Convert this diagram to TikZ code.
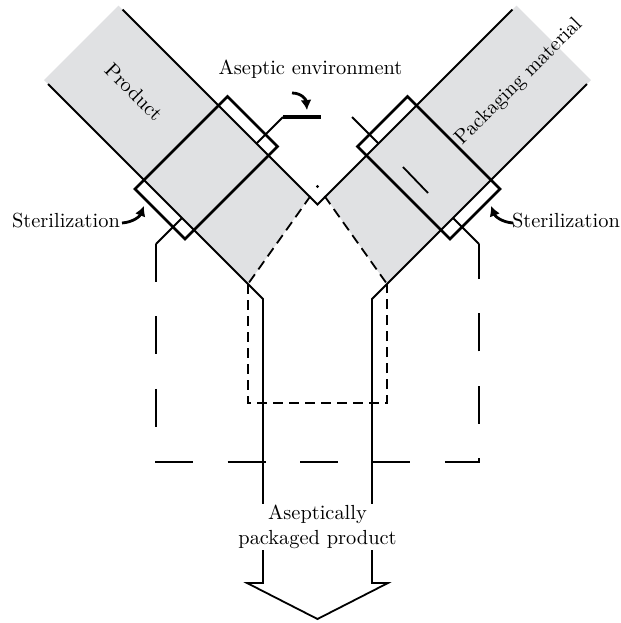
\documentclass[tikz,border=0pt]{standalone}
\usetikzlibrary{arrows.meta}
\definecolor{bandgray}{RGB}{224,225,227}
\begin{document}
\begin{tikzpicture}[x=0.5pt,y=-0.5pt,
  thinline/.style={line width=0.9pt, line join=miter},
  boldline/.style={line width=1.6pt},
  framebox/.style={line width=1.4pt, line join=miter},
  housedash/.style={line width=0.9pt, dash pattern=on 5pt off 3pt},
  longdash/.style={line width=0.9pt, dash pattern=on 19pt off 17.2pt},
  curvearrow/.style={line width=1.4pt, -{Latex[length=5pt,width=5.5pt]}},
  lbl/.style={font=\fontsize{10.2}{12.5}\selectfont, inner sep=1pt}]
\useasboundingbox (0,0) rectangle (621,623);

% key points
\coordinate (LT0) at (122.5,9.5);
\coordinate (V) at (317.5,204.5);
\coordinate (RT0) at (512.5,9.5);
\coordinate (LB0) at (48,84);
\coordinate (LB1) at (263,299);
\coordinate (LB2) at (263,583);
\coordinate (LB3) at (247,583);
\coordinate (TIP) at (317.5,619);
\coordinate (RB3) at (388,583);
\coordinate (RB2) at (372,583);
\coordinate (RB1) at (372,299);
\coordinate (RB0) at (587,84);

% gray bands
\fill[bandgray] (118.5,5.5) -- (44,80) -- (248,284) -- (309.8,196.8) -- cycle;
\fill[bandgray] (516.5,5.5) -- (591,80) -- (387,284) -- (325.2,196.8) -- cycle;

% dashed inner house
\coordinate (HL) at (248,284);
\coordinate (HR) at (387,284);
\coordinate (HXL) at (310.5,196);
\coordinate (HXR) at (324.5,196);
\coordinate (HA) at (317.5,186.5);
\coordinate (HBL) at (248,403);
\coordinate (HBR) at (387,403);
\draw[housedash] (HL) -- (HBL) -- (HBR) -- (HR);
\draw[housedash] (HXL) -- (HL);
\draw[housedash] (HXR) -- (HR);
\fill (HA) circle (1.6);

% outer long-dashed boundary
\coordinate (OL) at (156,244);
\coordinate (OR) at (479,244);
\coordinate (OBL) at (156,462);
\coordinate (OBR) at (479,462);
\draw[longdash] (OL) -- (OBL) -- (OBR) -- (OR);

% band edges and tube
\draw[thinline] (LT0) -- (V) -- (RT0);
\draw[thinline] (LB0) -- (LB1) -- (LB2) -- (LB3) -- (TIP) -- (RB3) -- (RB2) -- (RB1) -- (RB0);

% sterilization frames
\coordinate (F1a) at (227.5,96.5);
\coordinate (F1b) at (277.5,146.5);
\coordinate (F1c) at (185,239);
\coordinate (F1d) at (135,189);
\draw[framebox] (F1a) -- (F1b) -- (F1c) -- (F1d) -- cycle;
\coordinate (F2a) at (407.5,96.5);
\coordinate (F2b) at (357.5,146.5);
\coordinate (F2c) at (450,239);
\coordinate (F2d) at (500,189);
\draw[framebox] (F2a) -- (F2b) -- (F2c) -- (F2d) -- cycle;

% connectors
\coordinate (A1) at (256.5,143.5);
\coordinate (A2) at (283,117);
\coordinate (A3) at (321,117);
\draw[thinline] (A1) -- (A2);
\draw[boldline] (A2) -- (A3);
\coordinate (B1) at (378.5,143.5);
\coordinate (B2) at (352,117);
\draw[thinline] (B1) -- (B2);
\coordinate (C1) at (182,218);
\draw[thinline] (C1) -- (OL);
\coordinate (D1) at (453,218);
\draw[thinline] (D1) -- (OR);
\coordinate (M1) at (403,167);
\coordinate (M2) at (428,193);
\draw[thinline] (M1) -- (M2);

% labels
\node[lbl, rotate=-45] (prod) at (134,92) {Product};
\node[lbl, rotate=45] (pack) at (519,82) {Packaging material};
\node[lbl] (asenv) at (310.5,69) {Aseptic environment};
\node[lbl] (sterL) at (66,221) {Sterilization};
\node[lbl] (sterR) at (566,221) {Sterilization};
\node[lbl, fill=white, align=center, inner sep=0.5pt] (out) at (317.5,527) {Aseptically\\packaged product};

% curved arrows
\coordinate (aL0) at (122,223);
\coordinate (aL1) at (144,206);
\draw[curvearrow] (aL0) .. controls (134,222) and (140,216) .. (aL1);
\coordinate (aR0) at (513,223);
\coordinate (aR1) at (491,206);
\draw[curvearrow] (aR0) .. controls (501,222) and (495,216) .. (aR1);
\coordinate (aT0) at (292,93);
\coordinate (aT1) at (307,110);
\draw[curvearrow] (aT0) .. controls (301,93) and (306,99) .. (aT1);
\end{tikzpicture}
\end{document}
